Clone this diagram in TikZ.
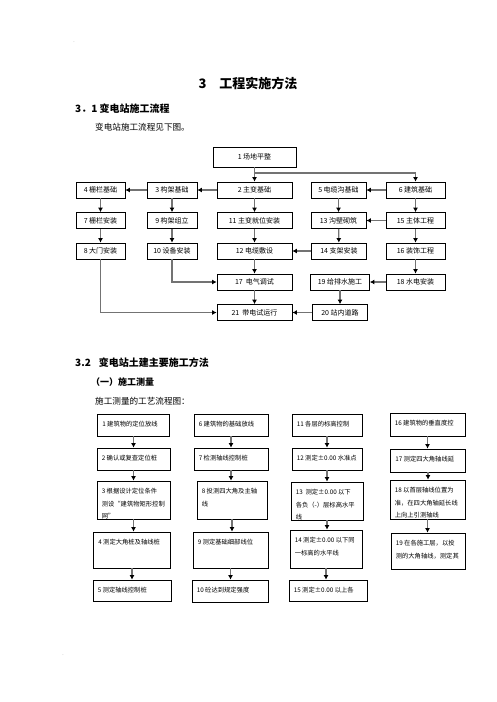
\documentclass[tikz,border=0pt]{standalone}
\usepackage{fontspec}
\setmainfont{Noto Sans CJK SC}
\usetikzlibrary{arrows.meta}

\tikzset{
  box/.style={draw, line width=0.8pt, minimum height=16pt, inner sep=0pt, font=\fontsize{7}{8}\selectfont},
  mbox/.style={draw, line width=0.8pt, inner sep=0pt},
  mtext/.style={anchor=north west, align=left, inner sep=0pt, font=\fontsize{6.3}{12.5}\selectfont},
  flow/.style={draw=black!55, line width=1.3pt, -{Latex[length=4.5pt,width=5pt,color=black]}},
  head/.style={anchor=west, inner sep=0pt, font=\fontsize{10}{12}\selectfont\bfseries},
  plain/.style={anchor=west, inner sep=0pt, font=\fontsize{8.6}{10}\selectfont},
}

% one box of the survey chart, text clipped to the box
\newcommand{\mstep}[6]{%
  \node[mbox, minimum width=#4, minimum height=#5] (#1) at (#2,#3) {};
  \begin{scope}
    \clip (#1.south west) rectangle (#1.north east);
    \node[mtext] (#1t) at ([xshift=5pt,yshift=-7.5pt]#1.north west) {#6};
  \end{scope}}

\begin{document}
\begin{tikzpicture}[x=1pt,y=-1pt]
    \useasboundingbox (0,0) rectangle (496,702);

    \node[gray, inner sep=0pt, font=\fontsize{5}{5}\selectfont] (d1) at (74,42) {.};
    \node[gray, inner sep=0pt, font=\fontsize{5}{5}\selectfont] (d2) at (63,655) {.};

    \node[inner sep=0pt, font=\fontsize{13}{15}\selectfont\bfseries] (title) at (248,83) {3\hspace{13pt}工程实施方法};
    \node[head] (h1) at (75,109) {3．1 变电站施工流程};
    \node[plain] (p1) at (95,127) {变电站施工流程见下图。};

    %flow of the substation
    \node[box, minimum width=83pt, minimum height=20pt] (n1) at (254.5,157) {1 场地平整};

    \node[box, minimum width=49pt] (n4) at (100.5,190) {4 栅栏基础};
    \node[box, minimum width=50pt] (n3) at (172,190) {3 构架基础};
    \node[box, minimum width=75pt] (n2) at (254.5,190) {2 主变基础};
    \node[box, minimum width=55pt] (n5) at (338.5,190) {5 电缆沟基础};
    \node[box, minimum width=59pt] (n6) at (415.5,190) {6 建筑基础};

    \node[box, minimum width=49pt] (n7) at (100.5,220.5) {7 栅栏安装};
    \node[box, minimum width=50pt] (n9) at (172,220.5) {9 构架组立};
    \node[box, minimum width=75pt] (n11) at (254.5,220.5) {11 主变就位安装};
    \node[box, minimum width=55pt] (n13) at (338.5,220.5) {13 沟壁砌筑};
    \node[box, minimum width=59pt] (n15) at (415.5,220.5) {15 主体工程};

    \node[box, minimum width=49pt] (n8) at (100.5,251) {8 大门安装};
    \node[box, minimum width=50pt] (n10) at (172,251) {10 设备安装};
    \node[box, minimum width=75pt] (n12) at (254.5,251) {12 电缆敷设};
    \node[box, minimum width=55pt] (n14) at (339,251) {14 支架安装};
    \node[box, minimum width=59pt] (n16) at (415.5,251) {16 装饰工程};

    \node[box, minimum width=75pt] (n17) at (254.5,282) {17\ \ 电气调试};
    \node[box, minimum width=59pt] (n19) at (340,282) {19 给排水施工};
    \node[box, minimum width=59pt] (n18) at (415.5,282) {18 水电安装};

    \node[box, minimum width=75pt] (n21) at (254.5,312.5) {21\ \ 带电试运行};
    \node[box, minimum width=55pt] (n20) at (340,312.5) {20 站内道路};

    \coordinate (j1) at (254.5,173);
    \draw[flow] (n1) -- (n2);
    \draw[flow] (j1) -| (n6);
    \draw[flow] (n2) -- (n3);
    \draw[flow] (n3) -- (n4);
    \draw[flow] (n6) -- (n5);
    \draw[flow] (n4) -- (n7);
    \draw[flow] (n7) -- (n8);
    \draw[flow] (n3) -- (n9);
    \draw[flow] (n9) -- (n10);
    \draw[flow] (n2) -- (n11);
    \draw[flow] (n11) -- (n12);
    \draw[flow] (n12) -- (n17);
    \draw[flow] (n17) -- (n21);
    \draw[flow] (n5) -- (n13);
    \draw[flow] (n13) -- (n14);
    \draw[flow] (n6) -- (n15);
    \draw[flow] (n15) -- (n16);
    \draw[flow] (n16) -- (n18);
    \draw[flow] (n15) -- (n13);
    \draw[flow] (n14) -- (n12);
    \draw[flow] (n18) -- (n19);
    \draw[flow] (n19.south) -- (n19.south |- n20.north);
    \draw[flow] (n20) -- (n21);
    \draw[flow] (n10.south) |- (n17.west);
    \draw[flow] (n8.south) |- (n21.west);

    \node[head] (h2) at (75,363) {3.2\hspace{8pt}变电站土建主要施工方法};
    \node[head, font=\fontsize{9}{11}\selectfont\bfseries] (h3) at (91,382) {（一）施工测量};
    \node[plain] (p2) at (95,401) {施工测量的工艺流程图：};

    %survey chart
    \mstep{m1}{133.5}{425}{72pt}{22pt}{1 建筑物的定位放线}
    \mstep{m2}{133.5}{459}{73pt}{22pt}{2 确认或复查定位桩}
    \mstep{m3}{133.5}{500}{73pt}{38pt}{3 根据设计定位条件\\测设“建筑物矩形控制\\网”}
    \mstep{m4}{132}{550}{77pt}{36pt}{4 测定大角桩及轴线桩}
    \mstep{m5}{132}{590.5}{78pt}{21pt}{5 测定轴线控制桩}

    \mstep{m6}{231}{425}{74pt}{22pt}{6 建筑物的基础放线}
    \mstep{m7}{231}{459}{74pt}{22pt}{7 检测轴线控制桩}
    \mstep{m8}{232}{500}{70pt}{38pt}{8 投测四大角及主轴\\线}
    \mstep{m9}{230.5}{550}{75pt}{36pt}{9 测定基础细部线位}
    \mstep{m10}{230}{591}{76pt}{22pt}{10 砼达到规定强度}

    \mstep{m11}{327}{425}{70pt}{22pt}{11 各层的标高控制}
    \mstep{m12}{327}{459}{70pt}{22pt}{12 测定±0.00 水准点}
    \mstep{m13}{327}{501}{72pt}{38pt}{13\ \ 测定±0.00 以下\\各负（-）层标高水平\\线}
    \mstep{m14}{326}{549}{72pt}{38pt}{14 测定±0.00 以下同\\一标高的水平线}
    \mstep{m15}{328}{590.5}{78pt}{21pt}{15 测定±0.00 以上各}

    \mstep{m16}{427.5}{424.5}{75pt}{23pt}{16 建筑物的垂直度控}
    \mstep{m17}{428}{460.5}{75pt}{23pt}{17 测定四大角轴线延}
    \mstep{m18}{427.5}{499.5}{75pt}{39pt}{18 以首层轴线位置为\\准，在四大角轴延长线\\上向上引测轴线}
    \mstep{m19}{428}{551}{74pt}{36pt}{19 在各施工层，以投\\测的大角轴线，测定其}

    \draw[flow] (m1.south) -- (m1.south |- m2.north);
    \draw[flow] (m2.south) -- (m2.south |- m3.north);
    \draw[flow] (m3.south) -- (m3.south |- m4.north);
    \draw[flow] (m4.south) -- (m4.south |- m5.north);
    \draw[flow] (m6.south) -- (m6.south |- m7.north);
    \draw[flow] (m7.south) -- (m7.south |- m8.north);
    \draw[flow] (m8.south) -- (m8.south |- m9.north);
    \draw[flow] (m9.south) -- (m9.south |- m10.north);
    \draw[flow] (m11.south) -- (m11.south |- m12.north);
    \draw[flow] (m12.south) -- (m12.south |- m13.north);
    \draw[flow] (m13.south) -- (m13.south |- m14.north);
    \draw[flow] (m14.south) -- (m14.south |- m15.north);
    \draw[flow] (m16.south) -- (m16.south |- m17.north);
    \draw[flow] (m17.south) -- (m17.south |- m18.north);
    \draw[flow] (m18.south) -- (m18.south |- m19.north);
\end{tikzpicture}
\end{document}
